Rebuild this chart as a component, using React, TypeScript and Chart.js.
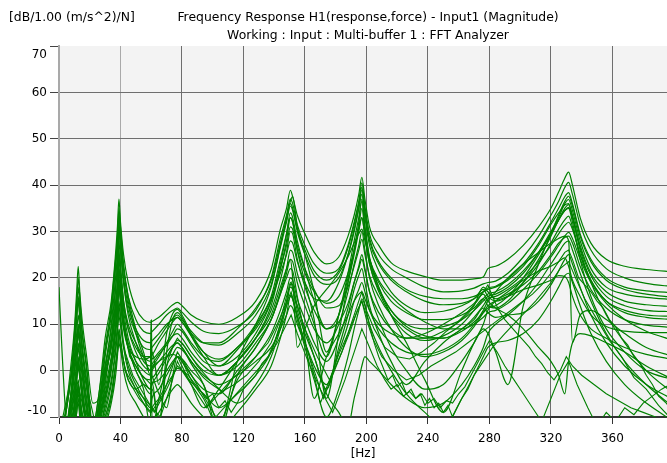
import React, { useEffect, useRef } from "react";
import { Chart, registerables } from "chart.js";

Chart.register(...registerables);

// Frequency axis shared by the main set of measured responses (Hz)
const FREQ_HZ = [
  0, 2, 5, 8, 10, 11.5, 12.5, 13.5, 15, 18, 22, 26, 30, 34,
  36.5, 38, 39, 40, 42, 45, 50, 55, 59.5, 60, 60.5,
  65, 70, 74, 77, 80, 86, 94, 104, 116, 128,
  138, 144, 148, 150.5, 152, 155, 160, 166, 174, 182, 188, 192, 195,
  197, 199, 202, 208, 216, 226, 238, 250, 262, 270, 276, 279, 284,
  292, 302, 312, 320, 325, 329, 331.5, 334, 339, 346, 356, 368, 382, 400,
];

// H1 magnitude per buffer (dB re 1.00 (m/s^2)/N)
const H1_01 = [
  -15, -16, -13, -4, 5, 11, 16, 12, 6, -2, -12, -5, 7, 15,
  24, 31, 37, 32, 25, 19, 13.5, 11, 10.4, 10.5, 10.6,
  11.5, 13, 14.2, 14.7, 14, 12, 10.6, 10, 11.5, 15,
  21.8, 30.5, 35, 38.9, 37.5, 33.5, 29.5, 25.5, 23, 24.5, 29, 33.5, 38,
  41.7, 37, 31, 27, 23.3, 21.5, 20.3, 19.5, 19.5, 19.8, 20.2, 22, 22.5,
  24, 27, 31, 35, 38.5, 41.5, 42.8, 40, 33, 27.5, 24, 22.5, 21.8, 21.3,
];
const H1_02 = [
  -16, -15, -12, -5, 1, 6, 10, 7, 2, -6, -15, -9, 3, 12,
  21, 27, 33, 29, 22, 16, 11, 8.5, 8, 8.2, 8.4,
  10, 12, 13, 13.5, 12.6, 10.5, 8.5, 8, 9.5, 13,
  20, 28.5, 33.5, 37, 36, 31.5, 27, 23, 21, 22, 27, 32, 36.5,
  40.5, 35.5, 29.5, 25, 22, 20, 18, 17, 17.2, 17.8, 18.7, 19, 19.3,
  21, 24.5, 29, 33.5, 36.5, 39.5, 40.6, 38, 31.5, 26, 22, 20, 18.8, 18.1,
];
const H1_03 = [
  -14, -16, -13, -7, -1, 4, 8, 5, 0, -8, -14, -8, 1, 9,
  17, 23, 30, 26, 19, 13, 8, 5, 4.5, 4.8, 5,
  7, 9.5, 11.3, 12, 11, 8.5, 6, 5.5, 8, 12,
  18.5, 26.5, 32, 35.5, 34.5, 30, 25, 20.5, 18.6, 20, 25, 30, 35,
  39, 34, 28, 23, 19.5, 17, 15, 14.2, 14.5, 15.5, 17, 17.8, 18.2,
  19.8, 23, 27.5, 32, 35, 37.5, 38.4, 36, 29.5, 24, 20, 18, 17.2, 16.8,
];
const H1_04 = [
  -16, -15, -15, -9, -4, 1, 5, 2, -3, -11, -16, -11, -2, 6,
  14, 19, 25, 22, 15, 10, 6, 3, 2, 11, 2.5,
  4, 6, 7.5, 8, 7, 4, 1, -1, 2, 7,
  14, 22, 28, 33, 32, 26, 19, 11, -6, 8, 19, 26, 32,
  37, 31, 24, 18, 13, 10, 9, 9.5, 11, 13, 15, 16, 16.5,
  18, 21, 25.5, 30, 33, 36, 36.9, 34.5, 28, 22, 18, 16.5, 15.8, 15.3,
];
const H1_05 = [
  -13, -12, -7, 2, 9, 17, 22.5, 17, 11, 3, -7, -6, 0, 6,
  13, 19, 28, 23, 15, 9, 4, 1, 0, 0.5, 0.8,
  3, 6, 8.5, 10, 9, 6, 3, 2, 5, 9,
  15, 22, 27, 31, 30.5, 26, 21, 17, 14.5, 16, 21, 26, 31,
  35, 30, 24, 19, 15, 12.5, 11, 11, 12, 13.5, 15.5, 14, 13.5,
  15, 19, 24, 29, 32.5, 35, 35.8, 33.5, 27, 21, 17, 15, 14.2, 13.8,
];
const H1_06 = [
  -15, -14, -8, -1, 6, 13, 18, 14, 8, 0, -14, -7, 4, 13,
  22, 29, 35, 31, 23, 16, 9, 4, -1, -1, -1.2,
  -5, -8, -1, 3, 2, -2, -6, -12, 2, 10,
  18, 27, 33, 36.5, 37.5, 31, 25, 17, 4, 12, 20, 26, 30.5,
  33, 29, 23, 17.5, 13, 9.5, 7.5, 7, 8.5, 10.5, 12.5, 13.5, 14,
  16, 20, 25, 29.5, 32.5, 34.5, 35.2, 33, 26.5, 20.5, 16, 14, 13, 12.7,
];
const H1_07 = [
  -14, -16, -15, -10, -5, -1, 3, 0, -4, -11, -15, -12, -3, 7,
  16, 23, 32, 27, 19, 12, 6, 2, 1, 1.2, 1.4,
  3.5, 5.5, 7.5, 9, 8.5, 5.5, 2, 1, 4.5, 9.5,
  15.5, 21, 25, 28, 27.5, 23.5, 19, 15.5, 15, 19, 25, 30.5, 35,
  38, 33, 27, 21.5, 17, 14, 12.5, 12.8, 14, 15.5, 17.5, 16, 15,
  16, 19, 23, 27.5, 30.5, 32.5, 33.3, 31, 25, 19.5, 15, 13, 12, 11.7,
];
const H1_08 = [
  -16, -15, -14, -8, -3, 2, 6, 3, -1, -9, -16, -9, -1, 5,
  12, 18, 26, 21, 14, 9, 5, 3, 3, 3.2, 3.3,
  6, 8.5, 10.5, 11.5, 10.5, 7.5, 4, 2.5, 5, 10,
  16, 24, 29.5, 33, 32, 27, 22, 17.5, 13.5, 14, 18, 22.5, 26,
  28.3, 25, 20.5, 16, 12, 9, 7, 7, 9, 11.5, 14, 15.5, 16,
  17.5, 20, 23.5, 27, 29.5, 31.3, 32, 30.5, 25, 19.5, 15, 12.5, 11.5, 11,
];
const H1_09 = [
  -15, -16, -16, -12, -7, -2, 2, -1, -5, -12, -15, -11, -5, 2,
  9, 15, 22, 18, 11, 5, 0, -3, -5, -4.5, -4,
  -11, 1, 5, 6.5, 6, 3, 0, -1, 2, 7,
  13, 19.5, 25.5, 30, 29.5, 24, 18, 13, 9, 10.5, 14.5, 19, 22,
  24, 21.5, 17, 12.5, 9, 7, 7, 8.5, 11, 14, 18, 17, 15.5,
  16.5, 18.5, 21.5, 25, 27.5, 28.7, 29, 27.5, 22.5, 17.5, 13.5, 11, 9.8, 9.3,
];
const H1_10 = [
  -16, -16, -16, -14, -10, -6, -3, -6, -10, -15, -15, -12, -6, 1,
  8, 13, 19, 16, 10, 5, 1, -1.5, -2, 7, -1.5,
  0.5, 3, 5, 6, 5, 1.5, -3, -13, -1, 5,
  11, 17, 22, 26, 25.5, 21, 16, 10, 3, 12, 21, 28, 33,
  36.5, 31, 24.5, 18, 12, 6, -2, -9, 0, 6, 10, 13, 15,
  17, 19.5, 21.5, 22.5, 23.5, 24.3, 22.5, 19.5, 16, 12, 9.5, 8.5, 8.2, 8.2,
];
const H1_11 = [
  -15, -16, -12, -4, 3, 8, 12, 9, 4, -4, -13, -8, -1, 5,
  11, 17, 24, 20, 13, 7, 2, -2, -4, -3.5, -3,
  -2, 0, 2, 3, 2, -1, -4, -5, 0, 5,
  11, 16.5, 21, 24, 23.5, 19, 14, 9, 6, 10, 17, 23, 27,
  30, 26, 20, 14, 9, 5, 3, 4, 6.5, 9.5, 12.5, 14, 15,
  16, 17.5, 18.5, 19.5, 20.5, 20.3, 19, 16, 12, 9, 7, 5, 3.5, 2.4,
];
const H1_12 = [
  -16, -15, -16, -12, -7, -2, 2, -1, -6, -13, -16, -14, -7, 0,
  7, 12, 18, 15, 9, 5, 3, 2.5, 3, 3.5, 4,
  -3, 8, 12.3, 13.2, 12, 8, 4, 1, 3, 8,
  15, 23, 29.5, 34, 33, 28, 22, 15, 9, 12, 19, 25, 30,
  33, 29, 23, 17, 12, 8, 6.5, 7.5, 10, 13, 15.5, 16.5, 17,
  18.5, 21.5, 25.5, 29.5, 32.5, 34.5, 35, 32, 24, 16, 9, 4, 0, -2,
];
const H1_13 = [
  -15, -16, -16, -15, -12, -7, -4, -7, -11, -16, -16, -13, -8, -2,
  4, 9, 15, 12, 6, 1, -3, -6, -8, -7, -6,
  -4, -1, 1.5, 3, 2.5, 0, -3, -11, -2, 3,
  8, 13, 17, 20, 19.5, 15.5, 11, 6, 2, 7, 13.5, 19, 22.5,
  25, 22, 17, 11, 5, 0, -4, -3, 2, 6, 9, 8, 4,
  -3, 14, 23, 29.5, 33.5, 36.5, 37.6, 35.5, 29, 23.5, 19.5, 17.5, 16.5, 15.8,
];
const H1_14 = [
  -14, -13, -8, -1, 5, 11, 15, 11, 5, -3, -13, -7, 1, 7,
  12, 16, 20, 17, 11, 6, 2, 0, -1, -0.5, 0,
  2, 4, 5.5, 6, 5, 2, -1.5, -4, -7, -3,
  3, 9, 14, 18, 17.5, 13, 8, 3, -4, 5, 12, 17.5, 20.5,
  22, 19, 14, 8, 2, -3, 2, 6, 9, 11, 13.5, 12.5, 11.5,
  12, 12.5, 15, 18.5, 21.5, 24, 25, 23, 18, 12, 6, 1, -3, -6.3,
];
const H1_15 = [
  -16, -15, -16, -13, -9, -4, -2, -5, -9, -15, -16, -11, -4, 3,
  9, 14, 22, 18, 11, 5, 0, -4, -12, 11, -12,
  -6, 1, 3.5, 5, 4.5, 2, -1, -3, -1, 2,
  5, 9, 12, 14, 13.5, 10, 6, 1, -3, 4, 10, 15, 17.5,
  19, 17, 13, 9, 6, 4, 3.5, 4.5, 7, 10, 13, 15, 17,
  20, 23, 25.5, 27.5, 28.5, 29, 28, 6, 12, 13, 11, 8, 5, 3,
];
const H1_16 = [
  -15, -16, -16, -16, -13, -9, -6, -9, -13, -16, -16, -13, -9, -3,
  3, 8, 14, 11, 5, 0, -4, -7, -9, -8.5, -8,
  -6, -3, -1, 0.5, 0, -2.5, -5, -8, -5, -1,
  4, 10, 15, 19, 18.5, 14, 9, 3, -5, -9, -12, -6, -2,
  1, 3, 2, 0, -3, -6, -8, -7, -3, 1, 5, 8, 10,
  12, 15, 19, 23, 25.5, 27.5, 28, 26, 21, 15, 8, 2, -3, -8,
];
const H1_17 = [
  -16, -16, -16, -15, -11, -7, -5, -8, -13, -16, -16, -15, -11, -6,
  0, 4, 9, 7, 2, -2, -4, -3, -4, -3, -2.5,
  -12, 4, 11, 12.5, 11.5, 7.5, 3, -1, 1, 6,
  11, 16.5, 20, 22, 21.5, 16, 7, -6, 3, 8, 12, 15, 16.5,
  17, 15.5, 13, 10, 8, 7, 8, 10, 12.5, 14.5, 16.5, 15, 13.5,
  12, 9, 5, 2, -1, -5, 2, 6, 8, 7.5, 6, 4, 1, -2,
];
const H1_18 = [
  18, 4, -12, -15, -13, -9, -7, -10, -15, -16, -16, -15, -12, -7,
  -2, 3, 8, 5, 0, -4, -7, -10, -12, -11.5, -11,
  -9, -6, -4, -3, -4, -7, -10, -13, -9, -4,
  1, 7, 12, 16, 15.5, 11, 5, -2, -10, -4, 3, 9, 13,
  15.5, 14, 10, 5, 0, -5, -9, -12, -6, -1, 3, 5, 6,
  6.5, 8, 11, 15, 18, 20.5, 21, 19, 14, 8, 2, -3, -7, -11,
];
const H1_19 = [
  -15, -13, -8, 0, 8, 15, 20, 16, 9, 1, -12, -5, 5, 14,
  23, 28, 34, 30, 22, 15, 8, 3, 0, 0, 0.5,
  2, 3, 3.5, 3, 1, -3, -8, -4, 2, 7,
  12, 18, 22, 24, 20, 5, 9, 14, 17.5, 21, 24.5, 27.5, 29.5,
  30.5, 28, 24, 19.5, 16, 13, 10.5, 9, 9, 10, 11.5, 12.5, 13,
  14.5, 17.5, 21, 24.5, 27, 29, 29.8, 28.5, 24, 19, 14.5, 11, 8.5, 6.5,
];
const H1_20 = [
  -16, -15, -13, -6, 0, 5, 9, 6, 1, -7, -15, -10, 0, 10,
  19, 25, 31, 27, 20, 14, 9, 6.5, 6, 6.2, 6.4,
  8, 10, 11, 11.5, 10.5, 8, 6, 6, 9, 13.5,
  19.5, 27.5, 32.5, 36, 35, 30.5, 26, 21.5, 19.5, 21.5, 26.5, 31.5, 36,
  39.5, 34.5, 28.5, 23.5, 20, 17.5, 16, 15.5, 15.5, 16, 17, 17.5, 18,
  19.5, 22.5, 27, 31.5, 34, 35.7, 36, 33, 26, 19, 12, 6, 0, -5,
];

const BUFFERS = [
  H1_01, H1_02, H1_03, H1_04, H1_05, H1_06, H1_07, H1_08, H1_09, H1_10,
  H1_11, H1_12, H1_13, H1_14, H1_15, H1_16, H1_17, H1_18, H1_19, H1_20,
];

// Low-level buffers, sampled on their own finer frequency steps (Hz / dB)
const LOW_A_HZ = [
  0, 5, 10, 12.5, 15, 20, 30, 36, 39, 42, 48, 55, 62, 70, 77, 84, 90, 96, 100, 104,
  108, 112, 116, 120, 124, 128, 132, 136, 140, 144, 148, 151, 154, 158, 162, 166, 170, 176, 182, 188,
  193, 197, 201, 205, 208, 211, 214, 217, 220, 223, 226, 229, 232, 235, 238, 241, 244, 247, 250, 253,
  256, 259, 262, 266, 270, 276, 282, 290, 300, 310, 320, 326, 331.5, 336, 342, 350, 358, 366, 374, 382,
  390, 400,
];
const LOW_A_DB = [
  -16, -14, -8, -4, -9, -16, -6, 4, 12, 5, -1, -5, -9, -4, 1, -1, -3.5, -6, -5, -8,
  -6.5, -9, -7, -4, -2.5, -1, 1.5, 3, 6, 10, 14, 16.5, 13, 8, 4, -1, -7, -2, 3.5, 8,
  12, 15, 11, 6, 3, 0.5, -2, -1, -3.5, -2.5, -5, -4, -6, -5, -7.5, -6, -8, -7, -9, -7.5,
  -10, -8, -6, -4, -1, 2, 5, 8, 11.5, 15, 19, 22, 23.5, 20, 15.5, 11, 6.5, 3, -1.5, -4,
  -7.5, -11,
];
const LOW_B_HZ = [
  0, 8, 12.5, 17, 25, 33, 39, 45, 52, 60, 68, 74, 77, 81, 88, 95, 102, 110, 118, 126,
  134, 142, 148, 151, 155, 162, 170, 178, 186, 192, 197, 202, 207, 212, 216, 220, 224, 228, 232, 236,
  240, 244, 248, 252, 256, 260, 264, 268, 272, 276, 280, 285, 290, 296, 302, 308, 314, 320, 326, 331.5,
  337, 344, 350, 356, 362, 368, 374, 380, 386, 392, 400,
];
const LOW_B_DB = [
  -16, -12, -3, -10, -15, -7, 6, -2, -6, -9, -5, 1, 4, 2, -2, -6, -10, -7, -4, -1,
  2, 6, 10, 12, 8, 2, -4, -9, -2, 4, 9, 5, 1, -2, -4, -3, -5.5, -4.5, -6, -5,
  -7, -6, -8, -6.5, -7, -5, -3.5, -1, 1.5, 4, 6.5, 4, 1, -2, -5, -8, -11, -6, -1, 2,
  -3, -8, -12, -9, -11, -8, -9.5, -7, -5.5, -4, -2.5,
];
const LOW_C_HZ = [
  0, 10, 12.5, 15, 24, 32, 37, 39, 41, 46, 54, 60, 66, 72, 77, 82, 90, 98, 106, 114,
  122, 130, 138, 144, 148, 151, 154, 160, 168, 176, 184, 190, 194, 197, 200, 205, 212, 220, 228, 236,
  244, 252, 258, 264, 268, 272, 276, 279, 282, 286, 290, 294, 298, 302, 306, 310, 314, 318, 322, 326,
  330, 334, 340, 348, 356, 364, 372, 380, 388, 400,
];
const LOW_C_DB = [
  -14, 2, 9, 1, -12, -3, 10, 18, 11, 3, -1, -3, 0, 4, 7, 5, 1, -2, -4.5, -3,
  -1, 2, 6, 11, 16, 19, 15, 9, 3, -2, 4, 10, 14, 17, 13, 9, 5, 3, 2.5, 4,
  6, 8.5, 10, 12, 13.5, 15, 17, 18.5, 16, 13, 11, 9.5, 8, 6.5, 5, 3, 1.5, -0.5, -2, 0,
  3, 1, -1, -3, -5, -6.5, -8, -9, -10, -12,
];
const LOW_D_HZ = [
  0, 10, 12.5, 16, 26, 35, 39, 43, 50, 58, 66, 73, 77, 80, 88, 96, 104, 112, 120, 128,
  136, 142, 147, 151, 155, 160, 166, 172, 178, 184, 190, 194, 197, 200, 204, 210, 218, 226, 234, 242,
  250, 258, 266, 272, 278, 284, 290, 296, 302, 308, 314, 320, 325, 329, 331.5, 334, 338, 342, 346, 350,
  354, 358, 362, 366, 370, 374, 378, 382, 386, 390, 395, 400,
];
const LOW_D_DB = [
  -16, -6, 1, -8, -15, -4, 8, 0, -4, -7, -10, -3, 2, 0, -4, -8, -5, -2, 0.5, 3,
  6, 10, 14, 17, 12, 6, 0, -6, -1, 4, 9, 13, 15, 11, 7, 3, 0, -2, -1, 1,
  2.5, 4, 6, 7.5, 9, 10.5, 12, 13.5, 15, 16.5, 18.5, 21, 23.5, 25.5, 26, 24, 20, 18.5, 17, 15,
  13.5, 11, 9.5, 7, 5.5, 3, 1.5, -1, -3, -5.5, -7, -9,
];

const LOW_BUFFERS: [number[], number[]][] = [
  [LOW_A_HZ, LOW_A_DB],
  [LOW_B_HZ, LOW_B_DB],
  [LOW_C_HZ, LOW_C_DB],
  [LOW_D_HZ, LOW_D_DB],
];

const UNIT_LABEL = "[dB/1.00 (m/s^2)/N]";
const TITLE = "Frequency Response H1(response,force) - Input1 (Magnitude)";
const SUBTITLE = "Working : Input : Multi-buffer 1 : FFT Analyzer";
const X_TITLE = "[Hz]";

const X_MIN = 0;
const X_MAX = 395.5;
const X_STEP = 40;
const Y_MIN = -10;
const Y_MAX = 70;
const Y_STEP = 10;

const FONT = "'DejaVu Sans', sans-serif";
const TRACE = "#008000";

const frame = {
  id: "analyzerFrame",
  beforeDraw(chart: any) {
    const { ctx, chartArea: a } = chart;
    ctx.save();
    ctx.fillStyle = "#f3f3f3";
    ctx.fillRect(a.left, a.top, a.right - a.left, a.bottom - a.top);
    ctx.restore();
  },
  afterDraw(chart: any) {
    const { ctx, chartArea: a } = chart;
    ctx.save();
    ctx.fillStyle = "#000";
    ctx.textBaseline = "middle";
    ctx.font = `12.4px ${FONT}`;
    ctx.textAlign = "left";
    ctx.fillText(UNIT_LABEL, 9, 18);
    ctx.textAlign = "center";
    ctx.fillText(TITLE, 368, 18);
    ctx.fillText(SUBTITLE, 368, 36);
    // value labels of the magnitude axis, kept inside the plot's height
    const y = chart.scales.y;
    ctx.font = `12px ${FONT}`;
    ctx.textAlign = "right";
    y.ticks.forEach((t: any) => {
      let py = y.getPixelForValue(t.value);
      py = Math.min(Math.max(py, a.top + 9), a.bottom - 6);
      ctx.fillText(String(t.value), 47, py);
    });
    ctx.restore();
  },
};

export default function App() {
  const ref = useRef<HTMLCanvasElement | null>(null);

  useEffect(() => {
    if (!ref.current) return;
    const main = BUFFERS.map((vals, i) => ({
      label: `Buffer ${i + 1}`,
      data: FREQ_HZ.map((f, k) => ({ x: f, y: vals[k] })),
      borderColor: TRACE,
      backgroundColor: TRACE,
      borderWidth: 1.2,
      pointRadius: 0,
      cubicInterpolationMode: "monotone" as const,
      clip: 0,
    }));
    const low = LOW_BUFFERS.map(([hz, db], i) => ({
      label: `Buffer ${BUFFERS.length + i + 1}`,
      data: hz.map((f, k) => ({ x: f, y: db[k] })),
      borderColor: TRACE,
      backgroundColor: TRACE,
      borderWidth: 1.1,
      pointRadius: 0,
      tension: 0,
      clip: 0,
    }));

    const chart = new Chart(ref.current, {
      type: "line",
      data: { datasets: [...main, ...low] },
      plugins: [frame],
      options: {
        responsive: false,
        animation: false,
        devicePixelRatio: 1,
        layout: { padding: { top: 46, left: 0, right: 0, bottom: 0 } },
        plugins: {
          legend: { display: false },
          tooltip: { enabled: false },
        },
        scales: {
          x: {
            type: "linear",
            min: X_MIN,
            max: X_MAX,
            ticks: {
              stepSize: X_STEP,
              includeBounds: false,
              autoSkip: false,
              maxRotation: 0,
              color: "#000",
              padding: 8,
              font: { family: FONT, size: 12 },
            },
            grid: {
              color: (c: any) =>
                c.tick && c.tick.value === 0
                  ? "rgba(0,0,0,0)"
                  : c.tick && c.tick.value === 40
                  ? "#a9a9a9"
                  : "#6e6e6e",
              tickColor: "#333",
              tickLength: 7,
              lineWidth: 1,
            },
            border: { color: "#333", width: 2 },
            title: {
              display: true,
              text: X_TITLE,
              color: "#000",
              font: { family: FONT, size: 12 },
              padding: { top: 0, bottom: 2 },
            },
            afterFit: (s: any) => {
              s.height = 46;
            },
          },
          y: {
            type: "linear",
            min: Y_MIN,
            max: Y_MAX,
            ticks: {
              stepSize: Y_STEP,
              color: "rgba(0,0,0,0)",
              font: { family: FONT, size: 12 },
            },
            grid: {
              color: (c: any) =>
                c.tick && (c.tick.value === Y_MAX || c.tick.value === Y_MIN)
                  ? "rgba(0,0,0,0)"
                  : "#6e6e6e",
              tickColor: "#444",
              tickLength: 9,
              lineWidth: 1,
            },
            border: { color: "#a9a9a9", width: 2 },
            afterFit: (s: any) => {
              s.width = 59;
            },
          },
        },
      },
    });
    return () => chart.destroy();
  }, []);

  return (
    <div
      style={{
        position: "fixed",
        left: 0,
        top: 0,
        width: 667,
        height: 463,
        overflow: "hidden",
        background: "#fff",
      }}
    >
      <canvas ref={ref} width={667} height={463} style={{ display: "block" }} />
    </div>
  );
}
